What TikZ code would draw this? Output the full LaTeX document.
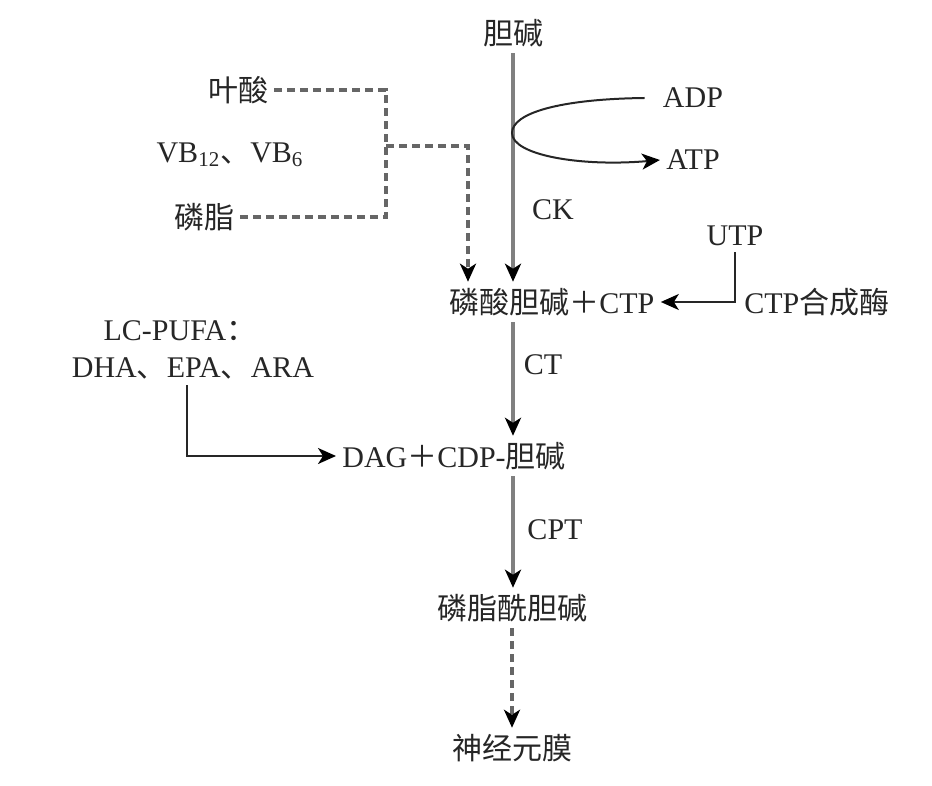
\documentclass[tikz,border=0pt]{standalone}
\usepackage{fontspec}
\setmainfont{Liberation Serif}
\newfontfamily\cjk{Noto Sans CJK SC}
\usetikzlibrary{arrows.meta,calc,positioning}
\tikzset{
  lbl/.style={inner sep=3pt, text=black!85, font=\fontsize{15}{18}\selectfont},
  flow/.style={draw=black!50, line width=1.6pt, -{Stealth[black,length=9pt,width=8pt,inset=2.5pt]}},
  hint/.style={flow, draw=black!60, dash pattern=on 4pt off 2.5pt},
  link/.style={draw=black!85, line width=1pt, -{Stealth[black,length=9pt,width=8pt,inset=2.5pt]}}
}

\begin{document}
\begin{tikzpicture}[x=0.5pt,y=-0.5pt]
  \useasboundingbox (0,0) rectangle (932,786);
  % substances
  \node[lbl] (choline) at (513,33) {\cjk 胆碱};
  \node[lbl] (folate) at (238,90) {\cjk 叶酸};
  \node[lbl] (vb) at (230,155) {VB\textsubscript{12}{\cjk 、}VB\textsubscript{6}};
  \node[lbl] (plipid) at (204,217) {\cjk 磷脂};
  \node[lbl] (adp) at (693,98) {ADP};
  \node[lbl] (atp) at (693,160) {ATP};
  \node[lbl] (utp) at (735,236) {UTP};
  \node[lbl, anchor=west] (pc) at (443,302) {{\cjk 磷酸胆碱＋}CTP};
  \node[lbl, anchor=west] (ctps) at (738,302) {CTP{\cjk 合成酶}};
  \node[lbl] (pufa) at (180,331) {LC-PUFA{\cjk ：}};
  \node[lbl] (fa) at (193,368) {DHA{\cjk 、}EPA{\cjk 、}ARA};
  \node[lbl, anchor=west] (dag) at (336,456) {DAG{\cjk ＋}CDP-{\cjk 胆碱}};
  \node[lbl] (ptc) at (512,608) {\cjk 磷脂酰胆碱};
  \node[lbl] (mem) at (512,748) {\cjk 神经元膜};
  % enzymes
  \node[lbl] (ck) at (553,210) {CK};
  \node[lbl] (ct) at (543,365) {CT};
  \node[lbl] (cpt) at (555,530) {CPT};

  % main pathway
  \draw[flow] (choline.south) -- (choline |- pc.north);
  \draw[flow] (pc.south -| choline) -- (choline |- dag.north);
  \draw[flow] (dag.south -| choline) -- (choline |- ptc.north);
  \draw[hint] (ptc.south) -- (mem.north);

  % cofactors
  \coordinate (fork) at (386,146);
  \draw[hint,-] (folate.east) -| (fork);
  \draw[hint,-] (plipid.east) -| (fork);
  \draw[hint] (fork) -| ($(pc.north west)+(25,0)$);

  % ATP
  \coordinate (turn) at (512,133);
  \draw[link] ([xshift=-6pt]adp.west) .. controls (560,99) and (512,113) .. (turn)
    .. controls (512,155) and (580,167) .. (atp.west);

  % CTP synthase
  \draw[link] (utp.south) |- (pc.east);

  % fatty acids
  \draw[link] ($(fa.south)+(-6,0)$) |- (dag.west);
\end{tikzpicture}
\end{document}
